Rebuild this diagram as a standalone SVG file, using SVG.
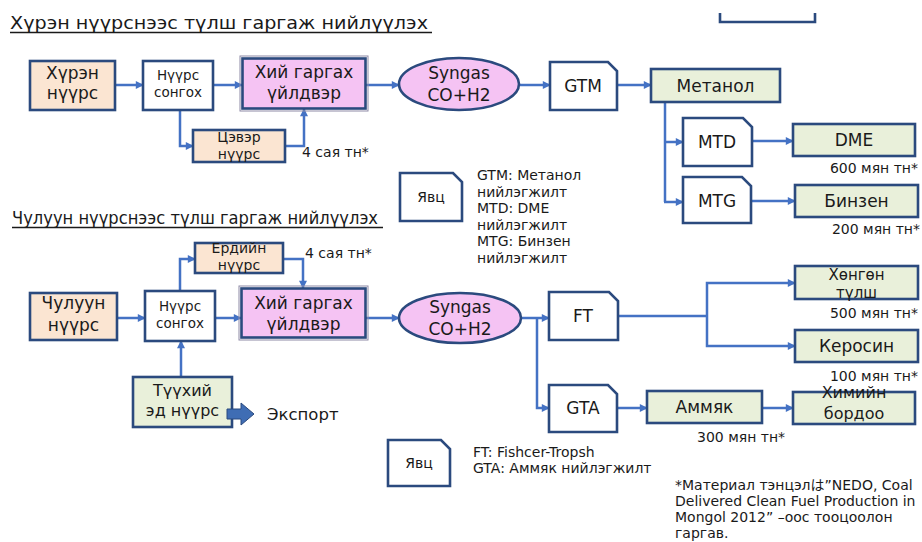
<svg xmlns="http://www.w3.org/2000/svg" width="922" height="542" viewBox="0 0 922 542">
<defs>
<marker id="ah" viewBox="0 0 10 10" refX="9" refY="5" markerUnits="userSpaceOnUse" markerWidth="9" markerHeight="8" orient="auto">
<path d="M0,0 L10,5 L0,10 Z" fill="#4472C4"/>
</marker>
<style>
.bx{stroke:#2B4A7E;stroke-width:2.6}
.peach{fill:#FBE5D2}
.pink{fill:#F5C3F3}
.green{fill:#E9F0DA}
.white{fill:#FFFFFF}
.t{font-family:"DejaVu Sans","Noto Sans CJK JP",sans-serif;fill:#1A1A1A;text-anchor:middle}
.l{font-family:"DejaVu Sans","Noto Sans CJK JP",sans-serif;fill:#1A1A1A}
.c{fill:none;stroke:#4472C4;stroke-width:2.5}
.ca{fill:none;stroke:#4472C4;stroke-width:2.5;marker-end:url(#ah)}
</style>
</defs>
<rect width="922" height="542" fill="#FFFFFF"/>

<!-- titles -->
<text class="l" x="10" y="29" font-size="18" textLength="418" lengthAdjust="spacingAndGlyphs">Хүрэн нүүрснээс түлш гаргаж нийлүүлэх</text>
<line x1="10" y1="32.5" x2="432" y2="32.5" stroke="#1A1A1A" stroke-width="1.3"/>
<text class="l" x="12" y="224" font-size="17" textLength="366" lengthAdjust="spacingAndGlyphs">Чулуун нүүрснээс түлш гаргаж нийлүүлэх</text>
<line x1="12" y1="227.5" x2="383" y2="227.5" stroke="#1A1A1A" stroke-width="1.3"/>

<path d="M720,13 V22 H815 V13" fill="none" stroke="#2B4A7E" stroke-width="2.6"/>

<!-- connectors -->
<g id="connectors">
<path class="ca" d="M115,85 H143"/>
<path class="ca" d="M213,85 H242"/>
<path class="ca" d="M366,85 H399"/>
<path class="ca" d="M520,85 H550"/>
<path class="ca" d="M617,85 H651"/>
<path class="ca" d="M180,110 V146 H193"/>
<path class="ca" d="M285,146 H304 V109"/>
<path class="c" d="M665,102 V202"/>
<path class="ca" d="M665,142 H683"/>
<path class="ca" d="M664,202 H683"/>
<path class="ca" d="M752,141 H793"/>
<path class="ca" d="M751,201 H795"/>

<path class="ca" d="M117,318 H145"/>
<path class="ca" d="M215,318 H241"/>
<path class="ca" d="M366,318 H399"/>
<path class="ca" d="M180,291 V259 H195"/>
<path class="ca" d="M283,259 H303 V288"/>
<path class="ca" d="M181,377 V341"/>
<path class="ca" d="M521,318 H549"/>
<path class="ca" d="M537,318 V408 H549"/>
<path class="c" d="M618,316 H707"/>
<path class="ca" d="M707,316 V283 H795"/>
<path class="ca" d="M707,316 V346 H795"/>
<path class="ca" d="M617,408 H647"/>
<path class="ca" d="M762,408 H793"/>
</g>

<!-- top row -->
<g id="n_huren">
<rect class="bx peach" x="30" y="61" width="85" height="49"/>
<text class="t" x="72.5" y="79" font-size="17">Хүрэн</text>
<text class="t" x="72.5" y="99" font-size="17">нүүрс</text>
</g>
<g id="n_songoh1">
<rect class="bx white" x="143" y="61" width="70" height="49"/>
<text class="t" x="178" y="80" font-size="13.5">Нүүрс</text>
<text class="t" x="178" y="97" font-size="13.5">сонгох</text>
</g>
<g id="n_hii1">
<rect x="240" y="56" width="128" height="55" fill="none" stroke="#8E8AA6" stroke-width="1"/>
<rect class="bx pink" x="242.5" y="58.5" width="123" height="50"/>
<text class="t" x="304" y="78" font-size="17">Хий гаргах</text>
<text class="t" x="304" y="99" font-size="17">үйлдвэр</text>
</g>
<g id="n_tseever">
<rect class="bx peach" x="193" y="130" width="92" height="32"/>
<text class="t" x="239" y="142" font-size="14">Цэвэр</text>
<text class="t" x="239" y="159" font-size="14">нүүрс</text>
</g>
<text class="l" x="302" y="157" font-size="14">4 сая тн*</text>
<g id="n_syngas1">
<ellipse cx="459" cy="84" rx="60" ry="26" fill="#F5C3F3" stroke="#2B4A7E" stroke-width="2.6"/>
<text class="t" x="459" y="79" font-size="17">Syngas</text>
<text class="t" x="459" y="101" font-size="17">CO+H2</text>
</g>
<g id="n_gtm">
<path class="bx white" d="M550,62 H608 L617,71 V110 H550 Z"/>
<text class="t" x="583" y="92" font-size="17">GTM</text>
</g>
<g id="n_metanol">
<rect class="bx green" x="651" y="69" width="129" height="33"/>
<text class="t" x="715.5" y="92" font-size="17">Метанол</text>
</g>
<g id="n_mtd">
<path class="bx white" d="M683,118 H743 L752,127 V166 H683 Z"/>
<text class="t" x="717" y="148" font-size="17">MTD</text>
</g>
<g id="n_dme">
<rect class="bx green" x="793" y="124" width="122" height="32"/>
<text class="t" x="854" y="146" font-size="17">DME</text>
</g>
<text class="l" x="918" y="173" font-size="14" text-anchor="end">600 мян тн*</text>
<g id="n_mtg">
<path class="bx white" d="M683,177 H742 L751,186 V223 H683 Z"/>
<text class="t" x="717" y="207" font-size="17">MTG</text>
</g>
<g id="n_binzen">
<rect class="bx green" x="795" y="185" width="123" height="32"/>
<text class="t" x="856.5" y="207" font-size="17">Бинзен</text>
</g>
<text class="l" x="920" y="234" font-size="14" text-anchor="end">200 мян тн*</text>

<g id="legend1">
<path class="bx white" d="M400,173 H453 L462,182 V221 H400 Z"/>
<text class="t" x="431" y="202" font-size="14">Явц</text>
</g>
<g id="legend1_text" font-size="14">
<text class="l" x="477" y="180">GTM: Метанол</text>
<text class="l" x="477" y="196.5">нийлэгжилт</text>
<text class="l" x="477" y="213">MTD: DME</text>
<text class="l" x="477" y="229.5">нийлэгжилт</text>
<text class="l" x="477" y="246">MTG: Бинзен</text>
<text class="l" x="477" y="262.5">нийлэгжилт</text>
</g>

<!-- bottom row -->
<g id="n_erdiin">
<rect class="bx peach" x="195" y="243" width="88" height="30"/>
<text class="t" x="239" y="253" font-size="14">Ердийн</text>
<text class="t" x="239" y="270" font-size="14">нүүрс</text>
</g>
<text class="l" x="305" y="258" font-size="14">4 сая тн*</text>
<g id="n_chuluun">
<rect class="bx peach" x="30" y="293" width="87" height="47"/>
<text class="t" x="73.5" y="309" font-size="17">Чулуун</text>
<text class="t" x="73.5" y="331" font-size="17">нүүрс</text>
</g>
<g id="n_songoh2">
<rect class="bx white" x="145" y="291" width="70" height="50"/>
<text class="t" x="180" y="311" font-size="13.5">Нүүрс</text>
<text class="t" x="180" y="328" font-size="13.5">сонгох</text>
</g>
<g id="n_hii2">
<rect x="239" y="286" width="129" height="54" fill="none" stroke="#8E8AA6" stroke-width="1"/>
<rect class="bx pink" x="241.5" y="288.5" width="124" height="49"/>
<text class="t" x="303.5" y="309" font-size="17">Хий гаргах</text>
<text class="t" x="303.5" y="330" font-size="17">үйлдвэр</text>
</g>
<g id="n_syngas2">
<ellipse cx="460" cy="318" rx="61" ry="25" fill="#F5C3F3" stroke="#2B4A7E" stroke-width="2.6"/>
<text class="t" x="460" y="313" font-size="17">Syngas</text>
<text class="t" x="460" y="335" font-size="17">CO+H2</text>
</g>
<g id="n_ft">
<path class="bx white" d="M549,292 H609 L618,301 V340 H549 Z"/>
<text class="t" x="583" y="322" font-size="17">FT</text>
</g>
<g id="n_hongon">
<rect class="bx green" x="795" y="266" width="123" height="33"/>
<text class="t" x="856.5" y="280" font-size="15">Хөнгөн</text>
<text class="t" x="856.5" y="298" font-size="15">түлш</text>
</g>
<text class="l" x="918" y="318" font-size="14" text-anchor="end">500 мян тн*</text>
<g id="n_kerosin">
<rect class="bx green" x="795" y="330" width="123" height="32"/>
<text class="t" x="856.5" y="352" font-size="17">Керосин</text>
</g>
<text class="l" x="918" y="381" font-size="14" text-anchor="end">100 мян тн*</text>
<g id="n_gta">
<path class="bx white" d="M549,385 H608 L617,394 V432 H549 Z"/>
<text class="t" x="583" y="414" font-size="17">GTA</text>
</g>
<g id="n_ammyak">
<rect class="bx green" x="647" y="391" width="115" height="32"/>
<text class="t" x="704.5" y="413" font-size="17">Аммяк</text>
</g>
<g id="n_himiin">
<rect class="bx green" x="793" y="392" width="122" height="32"/>
<text class="t" x="854" y="398" font-size="16">Химийн</text>
<text class="t" x="854" y="419" font-size="16">бордоо</text>
</g>
<text class="l" x="697" y="442" font-size="14">300 мян тн*</text>
<g id="n_tuuhii">
<rect class="bx green" x="133" y="377" width="99" height="50"/>
<text class="t" x="182.5" y="396" font-size="16">Түүхий</text>
<text class="t" x="182.5" y="416" font-size="16">эд нүүрс</text>
</g>
<g id="export">
<path d="M227,409 H241 V403 L254,414 L241,425 V419 H227 Z" fill="#3F6DB4" stroke="#2B4A7E" stroke-width="1"/>
<text class="l" x="267" y="420" font-size="16.5">Экспорт</text>
</g>
<g id="legend2">
<path class="bx white" d="M388,440 H441 L450,449 V486 H388 Z"/>
<text class="t" x="419" y="468" font-size="14">Явц</text>
</g>
<g id="legend2_text" font-size="14">
<text class="l" x="473" y="457">FT: Fishcer-Tropsh</text>
<text class="l" x="473" y="473">GTA: Аммяк нийлэгжилт</text>
</g>
<g id="footnote" font-size="14">
<text class="l" x="675" y="490">*Материал тэнцэлは”NEDO, Coal</text>
<text class="l" x="675" y="506">Delivered Clean Fuel Production in</text>
<text class="l" x="675" y="522">Mongol 2012” –оос тооцоолон</text>
<text class="l" x="675" y="537.5">гаргав.</text>
</g>
</svg>
